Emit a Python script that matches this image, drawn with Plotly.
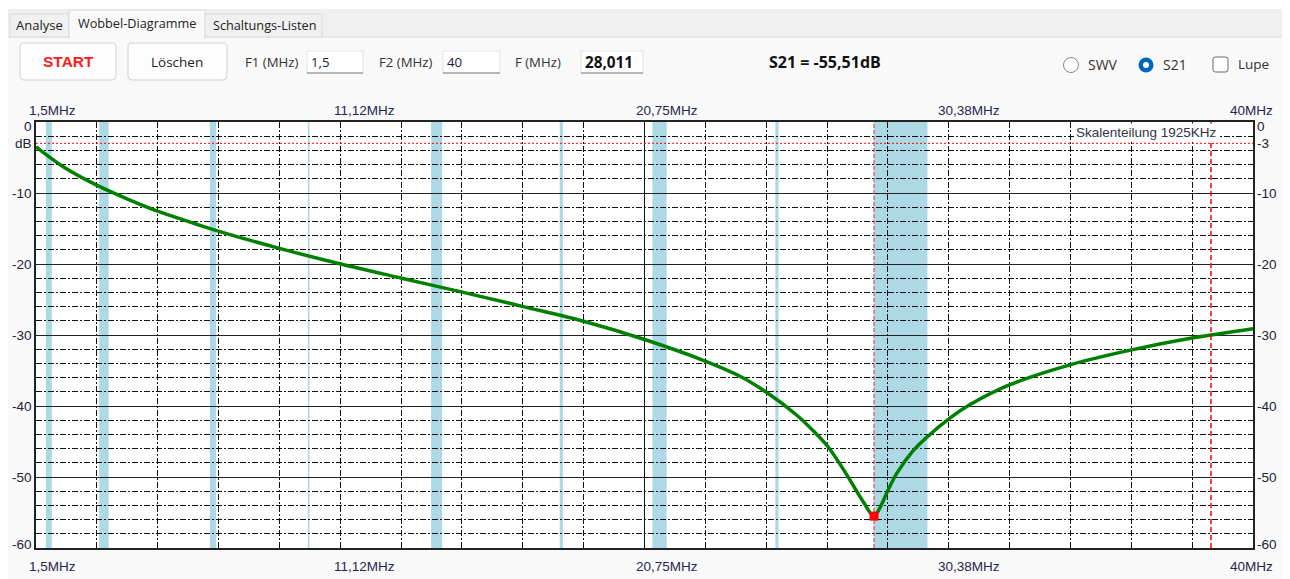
import plotly.graph_objects as go

# ---------------- data ----------------
freq_mhz = [1.5, 2.36, 3.42, 4.47, 5.37, 6.58, 7.29, 9.20, 11.14, 13.07, 15.02, 16.92, 18.85,
            20.73, 22.69, 23.77, 24.62, 25.57, 26.09, 26.55, 27.15, 27.67, 28.011, 28.2, 28.46,
            28.73, 29.25, 29.68, 30.41, 31.05, 32.31, 34.21, 36.16, 38.11, 40.0]
s21_db = [-3.5, -6.3, -8.9, -11.0, -12.6, -14.4, -15.4, -17.8, -20.0, -22.0, -24.0, -26.0, -28.1,
          -30.6, -33.7, -35.8, -38.1, -41.3, -43.5, -45.7, -49.7, -53.5, -55.51, -54.3, -51.8,
          -49.5, -46.3, -44.4, -41.7, -39.8, -37.0, -34.2, -32.1, -30.4, -29.1]

marker_f = [28.011]
marker_db = [-55.51]
cursor2_f = 38.67
ref_level_db = -3

band_lo = [1.81, 3.5, 7.0, 10.1, 14.0, 18.068, 21.0, 24.89, 28.0]
band_hi = [2.0, 3.8, 7.2, 10.15, 14.35, 18.168, 21.45, 24.99, 29.7]

f_start, f_stop = 1.5, 40.0
div_mhz = 1.925
x_tick_vals = [1.5, 11.125, 20.75, 30.375, 40.0]
x_tick_text = ["1,5MHz", "11,12MHz", "20,75MHz", "30,38MHz", "40MHz"]
x_tick_shift = [16, 24, 22, 20, -2]

y_tick_vals = [0, -3, -10, -20, -30, -40, -50, -60]
y_left_text = ["0", "dB", "-10", "-20", "-30", "-40", "-50", "-60"]
y_right_text = ["0", "-3", "-10", "-20", "-30", "-40", "-50", "-60"]
y_shift = [-4, 0, 0, 0, 0, 0, 0, 4]

# ---------------- geometry helpers (page pixel -> paper) ----------------
PAGE_W, PAGE_H = 1290, 579
BODY = 8                      # default html body margin offsets the figure
W, H = PAGE_W - BODY, PAGE_H - BODY
L, R, T, B = 36, 1253, 122, 548   # plot area in page pixels


def X(px):
    return (px - L) / (R - L)


def Y(py):
    return (B - py) / (B - T)


def rect(x0, y0, x1, y1, fill, line=None, lw=1):
    return dict(type="rect", xref="paper", yref="paper", x0=X(x0), x1=X(x1), y0=Y(y1), y1=Y(y0),
                fillcolor=fill, line=dict(color=line if line else "rgba(0,0,0,0)", width=lw if line else 0),
                layer="above")


def rrect(x0, y0, x1, y1, r, fill, line, lw=1):
    pts = [
        ("M", x0 + r, y0), ("L", x1 - r, y0), ("Q", x1, y0, x1, y0 + r), ("L", x1, y1 - r),
        ("Q", x1, y1, x1 - r, y1), ("L", x0 + r, y1), ("Q", x0, y1, x0, y1 - r), ("L", x0, y0 + r),
        ("Q", x0, y0, x0 + r, y0),
    ]
    s = ""
    for p in pts:
        if p[0] in ("M", "L"):
            s += f"{p[0]}{X(p[1]):.6f},{Y(p[2]):.6f} "
        else:
            s += f"Q{X(p[1]):.6f},{Y(p[2]):.6f} {X(p[3]):.6f},{Y(p[4]):.6f} "
    s += "Z"
    return dict(type="path", xref="paper", yref="paper", path=s, fillcolor=fill,
                line=dict(color=line, width=lw), layer="above")


def circ(cx, cy, r, fill, line=None, lw=1):
    return dict(type="circle", xref="paper", yref="paper", x0=X(cx - r), x1=X(cx + r), y0=Y(cy + r), y1=Y(cy - r),
                fillcolor=fill, line=dict(color=line if line else "rgba(0,0,0,0)", width=lw if line else 0),
                layer="above")


def hline(x0, x1, y, color, lw=1):
    return dict(type="line", xref="paper", yref="paper", x0=X(x0), x1=X(x1), y0=Y(y), y1=Y(y),
                line=dict(color=color, width=lw), layer="above")


UI_FONT = "Open Sans"
CH_FONT = "Liberation Sans"


def text(px, py, s, size=12, color="#333333", anchor="left", bold=False, family=UI_FONT, bg=None):
    d = dict(xref="paper", yref="paper", x=X(px), y=Y(py), text=(f"<b>{s}</b>" if bold else s),
             showarrow=False, xanchor=anchor, yanchor="middle",
             font=dict(family=family, size=size, color=color))
    if bg:
        d["bgcolor"] = bg
    return d


fig = go.Figure()

# curve
fig.add_trace(go.Scatter(x=freq_mhz, y=s21_db, mode="lines",
                         line=dict(color="#008000", width=3.5, shape="spline", smoothing=1.0),
                         hoverinfo="skip", showlegend=False))
# marker
fig.add_trace(go.Scatter(x=marker_f, y=marker_db, mode="markers",
                         marker=dict(symbol="square", size=9, color="#ff0000"),
                         hoverinfo="skip", showlegend=False))

shapes = []
# amateur bands
for lo, hi in zip(band_lo, band_hi):
    shapes.append(dict(type="rect", xref="x", yref="y", x0=lo, x1=hi, y0=-60, y1=0,
                       fillcolor="#add8e6", line=dict(width=0), layer="below"))
# -3 dB reference (dotted red)
shapes.append(dict(type="line", xref="paper", yref="y", x0=0, x1=1, y0=ref_level_db, y1=ref_level_db,
                   line=dict(color="#ff0000", width=1, dash="2px,2px"), layer="above"))
# cursor lines
shapes.append(dict(type="line", xref="x", yref="paper", x0=marker_f[0], x1=marker_f[0], y0=0, y1=1,
                   line=dict(color="#e03a3a", width=1, dash="4px,2px"), layer="above"))
shapes.append(dict(type="line", xref="x", yref="paper", x0=cursor2_f, x1=cursor2_f, y0=0, y1=1,
                   line=dict(color="#ff0000", width=1.5, dash="5px,3px"), layer="above"))

# ---------------- UI chrome ----------------
shapes.append(rect(8, 8, PAGE_W, 9, "#ffffff"))
shapes.append(rect(4, 9, PAGE_W, 37, "#efefef"))
shapes.append(hline(4, PAGE_W, 37, "#dcdcdc"))
shapes.append(dict(type="line", xref="paper", yref="paper", x0=X(1285), x1=X(1285), y0=Y(PAGE_H), y1=Y(37),
                   line=dict(color="#e2e2e2", width=1), layer="above"))
# tabs
shapes.append(rect(10, 14, 69, 37, "#f0f0f0", "#d9d9d9"))
shapes.append(rect(205, 14, 322, 37, "#f0f0f0", "#d9d9d9"))
shapes.append(rect(69, 10, 205, 38, "#f9f9f9", "#d9d9d9"))
shapes.append(hline(70, 204, 38, "#f9f9f9", 2))
# buttons
shapes.append(rrect(20, 43, 116, 80, 4, "#fdfdfd", "#d2d2d2"))
shapes.append(rrect(128, 43, 227, 80, 4, "#fdfdfd", "#d2d2d2"))
# text boxes
for x0, x1 in [(307, 363), (443, 500), (581, 643)]:
    shapes.append(rect(x0, 51, x1, 73, "#ffffff", "#e4e4e4"))
    shapes.append(hline(x0, x1, 73, "#7a7a7a"))
# radio buttons / checkbox
shapes.append(circ(1071, 65, 7.5, "#ffffff", "#8a8a8a", 1))
shapes.append(circ(1146, 65, 7.5, "#0067c0"))
shapes.append(circ(1146, 65, 3, "#ffffff"))
shapes.append(rrect(1213, 57, 1228, 72, 2.5, "#ffffff", "#6a6a6a"))

annotations = [
    text(39, 25, "Analyse", 13, "#222222", "center"),
    text(137, 23, "Wobbel-Diagramme", 12.7, "#222222", "center"),
    text(264, 25, "Schaltungs-Listen", 12.7, "#222222", "center"),
    text(68, 62, "START", 15.5, "#ff1a1a", "center", bold=True, family=CH_FONT),
    text(177, 62, "Löschen", 13.5, "#222222", "center"),
    text(243, 62, "F1 (MHz)", 13.2, "#333333"),
    text(309, 62, "1,5", 13.2, "#1a1a3a"),
    text(377, 62, "F2 (MHz)", 13.2, "#333333"),
    text(445, 62, "40", 13.2, "#1a1a3a"),
    text(513, 62, "F (MHz)", 13.2, "#333333"),
    text(583, 62, "28,011", 15.3, "#111111", bold=True),
    text(767, 62, "S21 = -55,51dB", 16, "#111111", bold=True),
    text(1086, 65, "SWV", 14, "#333333"),
    text(1161, 65, "S21", 14, "#333333"),
    text(1236, 64, "Lupe", 13.5, "#333333"),
    dict(xref="paper", yref="paper", x=X(1074), y=Y(132), text="Skalenteilung 1925KHz", showarrow=False,
         xanchor="left", yanchor="middle", bgcolor="#ffffff", borderpad=1,
         font=dict(family=CH_FONT, size=13.5, color="#333344")),
]

# x-axis labels (top and bottom)
for v, t, s in zip(x_tick_vals, x_tick_text, x_tick_shift):
    for ypix in (111, 566):
        annotations.append(dict(xref="x", yref="paper", x=v, y=Y(ypix), text=t, showarrow=False,
                                xanchor="center", yanchor="middle", xshift=s,
                                font=dict(family=CH_FONT, size=13.5, color="#262650")))
# y-axis labels (left and right)
for v, tl, tr, s in zip(y_tick_vals, y_left_text, y_right_text, y_shift):
    annotations.append(dict(xref="paper", yref="y", x=0, y=v, text=tl, showarrow=False,
                            xanchor="right", yanchor="middle", xshift=-2, yshift=s,
                            font=dict(family=CH_FONT, size=13.5, color="#222233")))
    annotations.append(dict(xref="paper", yref="y", x=1, y=v, text=tr, showarrow=False,
                            xanchor="left", yanchor="middle", xshift=2, yshift=s,
                            font=dict(family=CH_FONT, size=13.5, color="#222233")))

GRID_DASH = "6px,2px,2px,2px"

fig.update_layout(
    width=W, height=H, autosize=False,
    margin=dict(l=L - BODY, r=PAGE_W - R, t=T - BODY, b=PAGE_H - B, pad=0),
    paper_bgcolor="#f9f9f9", plot_bgcolor="#ffffff",
    showlegend=False,
    shapes=shapes, annotations=annotations,
    xaxis=dict(range=[f_start, f_stop], tick0=f_start, dtick=div_mhz * 10,
               showgrid=True, gridcolor="#111111", gridwidth=1.2,
               minor=dict(tick0=f_start, dtick=div_mhz, showgrid=True, gridcolor="#111111",
                          gridwidth=1, griddash=GRID_DASH),
               showticklabels=False, ticks="", zeroline=False,
               showline=True, linecolor="#222222", linewidth=1.5, mirror=True, fixedrange=True),
    yaxis=dict(range=[-60, 0], tick0=0, dtick=10,
               showgrid=True, gridcolor="#222222", gridwidth=1.3,
               minor=dict(tick0=0, dtick=2, showgrid=True, gridcolor="#111111",
                          gridwidth=1, griddash=GRID_DASH),
               showticklabels=False, ticks="", zeroline=False,
               showline=True, linecolor="#222222", linewidth=1.5, mirror=True, fixedrange=True),
)

fig.write_html("out.html")
